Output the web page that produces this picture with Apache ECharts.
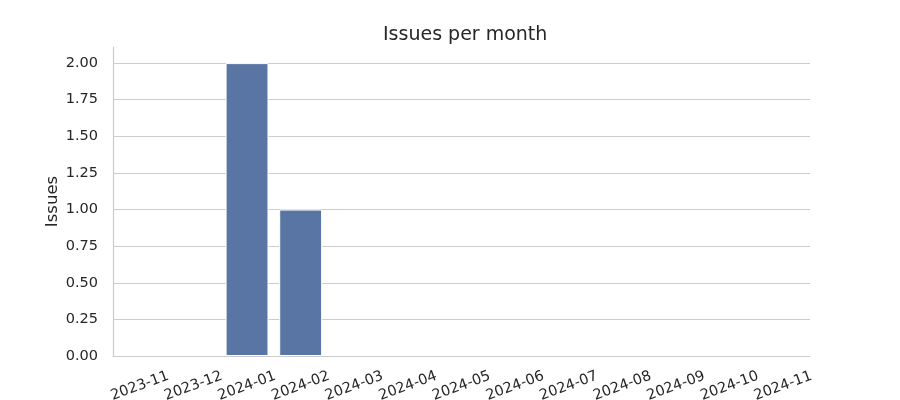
<!DOCTYPE html>
<html><head><meta charset="utf-8">
<script src="https://cdn.jsdelivr.net/npm/echarts@6/dist/echarts.min.js"></script>
<style>html,body{margin:0;padding:0;background:#fff}#c{width:900px;height:400px}</style>
</head><body><div id="c"></div>
<script>
const months = ['2023-11','2023-12','2024-01','2024-02','2024-03','2024-04','2024-05','2024-06','2024-07','2024-08','2024-09','2024-10','2024-11'];
const issues = [0,0,2,1,0,0,0,0,0,0,0,0,0];
const yTicks = [0,0.25,0.5,0.75,1,1.25,1.5,1.75,2];
const chart = echarts.init(document.getElementById('c'), null, {renderer:'canvas'});
const font = 'DejaVu Sans';
chart.setOption({
  animation:false,
  title:{text:'Issues per month',left:378,top:21,textStyle:{fontFamily:font,fontSize:19,fontWeight:'normal',color:'#262626'}},
  grid:{left:113,right:90,top:47,bottom:44,outerBoundsMode:'none',containLabel:false},
  xAxis:{type:'category',data:months,
    axisLine:{show:true,lineStyle:{color:'#cccccc',width:1.2}},
    axisTick:{show:false},
    axisLabel:{rotate:20,interval:0,align:'center',verticalAlign:'middle',fontFamily:font,fontSize:14.5,color:'#262626',margin:30},
    splitLine:{show:false}},
  yAxis:{type:'value',min:0,max:2.11,interval:0.25,
    name:'Issues',nameLocation:'middle',nameGap:52,nameRotate:90,nameMoveOverlap:false,
    nameTextStyle:{fontFamily:font,fontSize:16.5,color:'#262626'},
    axisLine:{show:true,lineStyle:{color:'#cccccc',width:1.2}},
    axisTick:{show:false},
    axisLabel:{fontFamily:font,fontSize:14.5,color:'#262626',margin:15,
      formatter:v=>yTicks.some(t=>Math.abs(t-v)<1e-9)?v.toFixed(2):''},
    splitLine:{show:true,showMaxLine:false,lineStyle:{color:'#cccccc',width:1.2}}},
  series:[{type:'bar',barCategoryGap:'20%',
    data:issues.map(v=>({value:v,itemStyle:{borderWidth:v>0?1:0}})),
    itemStyle:{color:'#5975a4',borderColor:'#ffffff'}}]
});
</script></body></html>
